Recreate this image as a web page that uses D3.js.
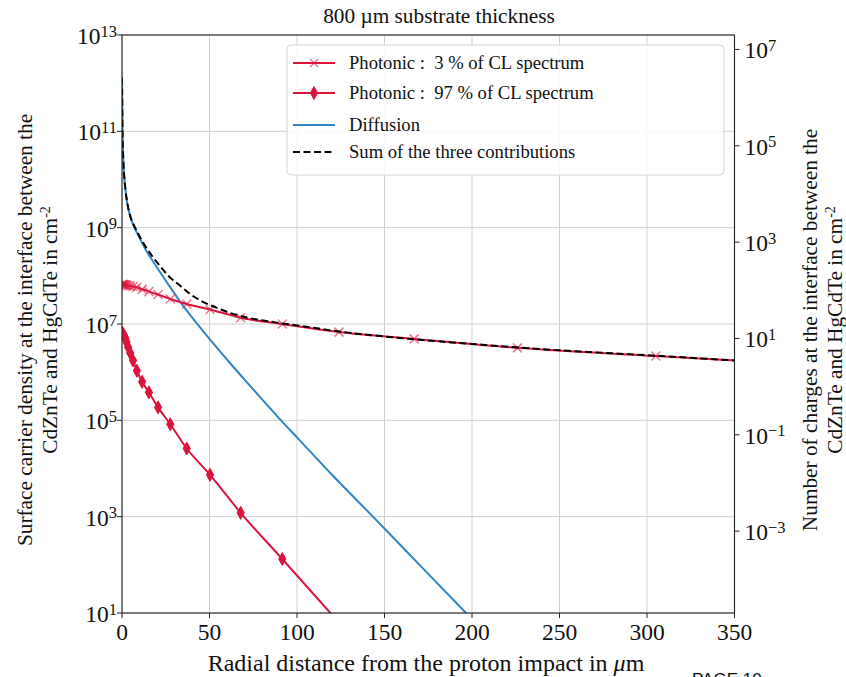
<!DOCTYPE html>
<html>
<head>
<meta charset="utf-8">
<script src="https://cdn.jsdelivr.net/npm/d3@7/dist/d3.min.js"></script>
<style>
  body { margin: 0; background: #fff; }
  svg { display: block; }
  text { font-family: "Liberation Serif", "Times New Roman", serif; fill: #111; white-space: pre; }
</style>
</head>
<body>
<script>
// ---------------- data ----------------
const xTicks = [0, 50, 100, 150, 200, 250, 300, 350];
const leftTickExps = [1, 3, 5, 7, 9, 11, 13];
const rightTickExps = [-3, -1, 1, 3, 5, 7];

// sampling radii of the photonic contributions (µm)
const photonicX = [0, 0.5, 1.0, 1.4, 1.9, 2.6, 3.5, 4.7, 6.3, 8.5, 11.5, 15.4, 20.6, 27.6, 37.0, 50.3, 67.8, 91.6, 124, 167, 226, 305, 412];
// Photonic : 3 % of CL spectrum (cm^-2)
const photonic3 = [6.6e7, 6.6e7, 6.6e7, 6.5e7, 6.45e7, 6.4e7, 6.3e7, 6.2e7, 6.0e7, 5.75e7, 5.25e7, 4.7e7, 4.1e7, 3.3e7, 2.6e7, 2.0e7, 1.35e7, 1.0e7, 6.8e6, 4.9e6, 3.2e6, 2.16e6, 1.3e6];
// Photonic : 97 % of CL spectrum (cm^-2)
const photonic97 = [6.6e6, 6.3e6, 5.9e6, 5.5e6, 5.0e6, 4.2e6, 3.3e6, 2.5e6, 1.75e6, 1.07e6, 6.3e5, 3.8e5, 1.86e5, 8.3e4, 2.6e4, 7.4e3, 1.2e3, 132, 6.3, null, null, null, null];

// Diffusion
const diffX = [0, 0.3, 0.7, 1.2, 2.0, 3.0, 4.5, 6.5, 8.5, 11, 13.7, 17.7, 21.7, 27.4, 33.1, 38.9, 44.6, 53.1, 61.7, 73.1, 81.7, 90.6, 101.7, 120, 143.4, 170, 196.6, 210];
const diffY = [1.3e12, 1.0e11, 2.8e10, 1.26e10, 6.0e9, 3.2e9, 1.8e9, 1.12e9, 7.9e8, 5.2e8, 3.4e8, 2.0e8, 1.2e8, 5.9e7, 2.95e7, 1.55e7, 8.5e6, 3.6e6, 1.55e6, 5.25e5, 2.34e5, 1.02e5, 3.8e4, 7.4e3, 1.0e3, 100, 10, 3.2];

// Sum of the three contributions
const sumX = [0, 0.3, 0.7, 1.2, 2.0, 3.0, 4.5, 6.5, 8.5, 11, 13.7, 17.7, 21.7, 27.4, 33.1, 38.9, 44.6, 53.1, 61.7, 73.1, 81.7, 90.6, 101.7, 120, 150, 200, 250, 300, 350];
const sumY = [1.3e12, 1.0e11, 2.8e10, 1.27e10, 6.1e9, 3.3e9, 1.86e9, 1.18e9, 8.5e8, 5.7e8, 3.9e8, 2.45e8, 1.6e8, 9.3e7, 6.3e7, 4.2e7, 3.1e7, 2.25e7, 1.7e7, 1.32e7, 1.17e7, 1.04e7, 9.2e6, 7.3e6, 5.5e6, 3.85e6, 2.85e6, 2.25e6, 1.75e6];

const legendLabels = ["Photonic :  3 % of CL spectrum", "Photonic :  97 % of CL spectrum", "Diffusion", "Sum of the three contributions"];

// ---------------- layout ----------------
const W = 846, H = 677;
const L = 122, R = 734.5, T = 35, B = 613;
const RED = "#dc143c", BLUE = "#2f85c5";

const svg = d3.select("body").append("svg").attr("width", W).attr("height", H);

const x = d3.scaleLinear().domain([0, 350]).range([L, R]);
const y = d3.scaleLog().domain([1e1, 1e13]).range([B, T]);
const yR = d3.scaleLog().domain([Math.pow(10, -4.70), Math.pow(10, 7.30)]).range([B, T]);

svg.append("defs").append("clipPath").attr("id", "clip")
  .append("rect").attr("x", L).attr("y", T).attr("width", R - L).attr("height", B - T);

// grid
const grid = svg.append("g");
grid.selectAll("line.gx").data(xTicks).join("line")
  .attr("x1", d => x(d)).attr("x2", d => x(d)).attr("y1", T).attr("y2", B)
  .attr("stroke", "#d0d0d0").attr("stroke-width", 1);
grid.selectAll("line.gy").data(leftTickExps).join("line")
  .attr("x1", L).attr("x2", R).attr("y1", d => y(Math.pow(10, d))).attr("y2", d => y(Math.pow(10, d)))
  .attr("stroke", "#d0d0d0").attr("stroke-width", 1);

// series
const plot = svg.append("g").attr("clip-path", "url(#clip)");
const line = d3.line().curve(d3.curveMonotoneX).x(d => x(d[0])).y(d => y(d[1]));

const p3 = photonicX.map((d, i) => [d, photonic3[i]]);
const p97 = photonicX.map((d, i) => [d, photonic97[i]]).filter(d => d[1] != null);
const dif = diffX.map((d, i) => [d, diffY[i]]);
const sm = sumX.map((d, i) => [d, sumY[i]]);

plot.append("path").attr("d", line(dif)).attr("fill", "none").attr("stroke", BLUE).attr("stroke-width", 2);
plot.append("path").attr("d", line(p97)).attr("fill", "none").attr("stroke", RED).attr("stroke-width", 2);
plot.append("path").attr("d", line(p3)).attr("fill", "none").attr("stroke", RED).attr("stroke-width", 2);

function xMarker(g, cx, cy, s) {
  g.append("path").attr("d", `M${cx - s},${cy - s}L${cx + s},${cy + s}M${cx - s},${cy + s}L${cx + s},${cy - s}`)
    .attr("stroke", RED).attr("stroke-opacity", 0.55).attr("stroke-width", 1.6).attr("fill", "none");
}
function dMarker(g, cx, cy) {
  g.append("path").attr("d", `M${cx},${cy - 6.5}L${cx + 3.6},${cy}L${cx},${cy + 6.5}L${cx - 3.6},${cy}Z`)
    .attr("fill", RED).attr("stroke", RED).attr("stroke-width", 1);
}
p3.forEach(d => xMarker(plot, x(d[0]), y(d[1]), 4.5));
p97.forEach(d => dMarker(plot, x(d[0]), y(d[1])));

plot.append("path").attr("d", line(sm)).attr("fill", "none").attr("stroke", "#000")
  .attr("stroke-width", 2).attr("stroke-dasharray", "7,3.5");

// spines
svg.append("rect").attr("x", L).attr("y", T).attr("width", R - L).attr("height", B - T)
  .attr("fill", "none").attr("stroke", "#222").attr("stroke-width", 1.1);

// x ticks
const xa = svg.append("g");
xTicks.forEach(t => {
  xa.append("line").attr("x1", x(t)).attr("x2", x(t)).attr("y1", B).attr("y2", B + 5).attr("stroke", "#222");
  xa.append("text").attr("x", x(t)).attr("y", B + 27).attr("text-anchor", "middle")
    .attr("font-size", 23.5).text(t);
});

function powLabel(g, px, py, exp, anchor) {
  const t = g.append("text").attr("y", py).attr("font-size", 23.5).attr("text-anchor", anchor).attr("x", px);
  t.append("tspan").text("10");
  t.append("tspan").attr("dy", -7.5).attr("font-size", 16.5).text(exp < 0 ? "\u2212" + (-exp) : String(exp));
}
// left ticks
leftTickExps.forEach(e => {
  const py = y(Math.pow(10, e));
  svg.append("line").attr("x1", L - 5).attr("x2", L).attr("y1", py).attr("y2", py).attr("stroke", "#222");
  powLabel(svg, L - 5, py + 9, e, "end");
});
// right ticks
rightTickExps.forEach(e => {
  const py = yR(Math.pow(10, e));
  svg.append("line").attr("x1", R).attr("x2", R + 5).attr("y1", py).attr("y2", py).attr("stroke", "#222");
  powLabel(svg, R + 10, py + 9, e, "start");
});

// title
svg.append("text").attr("x", 439).attr("y", 23).attr("text-anchor", "middle").attr("font-size", 21.3)
  .text("800 \u00b5m substrate thickness");

// x label
const xl = svg.append("text").attr("x", 426).attr("y", 671).attr("text-anchor", "middle").attr("font-size", 24);
xl.append("tspan").text("Radial distance from the proton impact in ");
xl.append("tspan").attr("font-style", "italic").text("\u03bc");
xl.append("tspan").text("m");

// y labels
function yLabel(cx, lines) {
  const g = svg.append("g").attr("transform", `translate(${cx},330) rotate(-90)`);
  lines.forEach((ln, i) => {
    const t = g.append("text").attr("x", 0).attr("y", i * 25).attr("text-anchor", "middle").attr("font-size", 21.3);
    ln.forEach(part => {
      const s = t.append("tspan").text(part.t);
      if (part.sup) s.attr("dy", -7).attr("font-size", 14);
    });
  });
}
yLabel(32, [[{t: "Surface carrier density at the interface between the"}], [{t: "CdZnTe and HgCdTe in cm"}, {t: "-2", sup: true}]]);
yLabel(817, [[{t: "Number of charges at the interface between the"}], [{t: "CdZnTe and HgCdTe in cm"}, {t: "-2", sup: true}]]);

// legend
const lg = svg.append("g");
lg.append("rect").attr("x", 287).attr("y", 45).attr("width", 437).attr("height", 130).attr("rx", 4)
  .attr("fill", "#fff").attr("fill-opacity", 0.85).attr("stroke", "#d4d4d4");
const ly = [63, 93, 125, 152];
legendLabels.forEach((lab, i) => {
  const yy = ly[i];
  const ln = lg.append("line").attr("x1", 293).attr("x2", 335).attr("y1", yy).attr("y2", yy)
    .attr("stroke", i < 2 ? RED : (i === 2 ? BLUE : "#000")).attr("stroke-width", 2);
  if (i === 3) ln.attr("stroke-dasharray", "7,3.5");
  if (i === 0) xMarker(lg, 314, yy, 4);
  if (i === 1) dMarker(lg, 314, yy);
  lg.append("text").attr("x", 349).attr("y", yy + 6).attr("font-size", 18.6).text(lab);
});

// page footer (cut off at the bottom, as in the source)
svg.append("text").attr("x", 692).attr("y", 685)
  .style("font-family", "'Liberation Sans', Arial, sans-serif").attr("font-size", 17).text("PAGE 10");
</script>
</body>
</html>
